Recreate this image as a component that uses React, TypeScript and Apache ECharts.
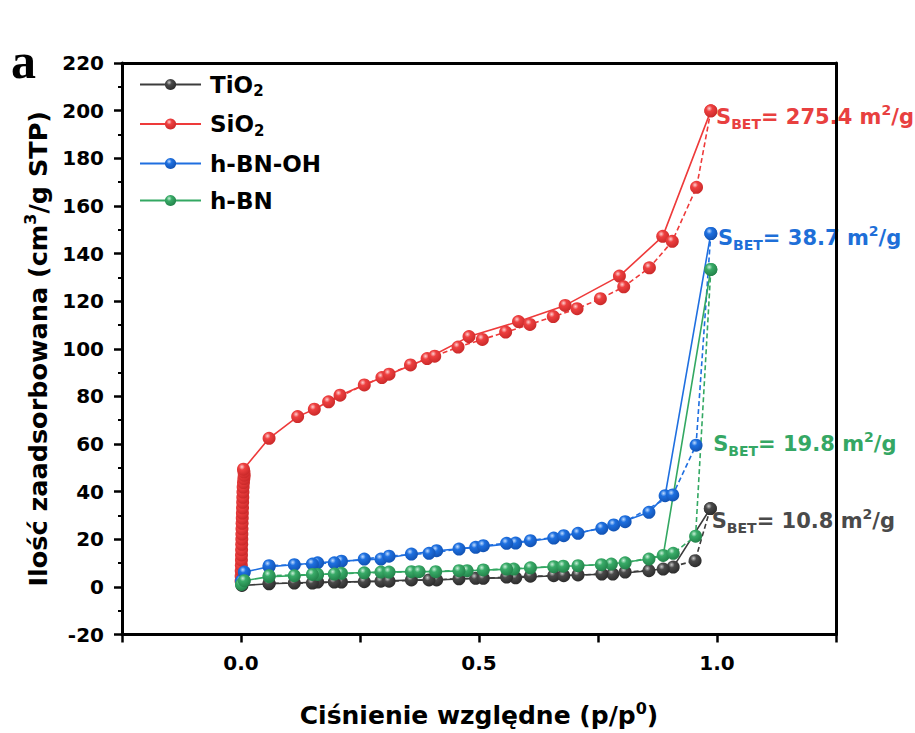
import React, { useEffect, useRef } from 'react';
import * as echarts from 'echarts';

const FONT = '"DejaVu Sans", "Liberation Sans", Arial, sans-serif';

// ---- data (p/p0, adsorbed volume) ----
const materials = ['TiO2', 'SiO2', 'h-BN-OH', 'h-BN'];
const legendLabels = ['{n|TiO}{sub|2}', '{n|SiO}{sub|2}', '{n|h-BN-OH}', '{n|h-BN}'];

const tio2Adsorption = [[0.002, 0.6], [0.059, 1.3], [0.112, 1.6], [0.161, 2.0], [0.211, 2.0], [0.294, 2.4], [0.358, 2.9], [0.411, 2.9], [0.493, 3.6], [0.577, 3.8], [0.657, 4.7], [0.708, 5.0], [0.781, 5.4], [0.857, 6.8], [0.908, 8.3], [0.986, 32.9]];
const tio2Desorption = [[0.986, 32.9], [0.954, 11.0], [0.887, 7.5], [0.807, 6.2], [0.758, 5.4], [0.678, 4.7], [0.608, 4.5], [0.558, 4.1], [0.509, 3.6], [0.458, 3.4], [0.395, 2.9], [0.311, 2.4], [0.259, 2.2], [0.196, 2.0], [0.150, 1.6], [0.059, 1.5]];

const sio2Adsorption = [[0.0001, 2.5], [0.0003, 4.6], [0.0005, 6.8], [0.0007, 9.1], [0.0009, 11.3], [0.0011, 13.4], [0.0013, 15.6], [0.0015, 17.9], [0.0017, 20.1], [0.0019, 22.2], [0.0021, 24.4], [0.0023, 26.7], [0.0026, 28.9], [0.0029, 31.0], [0.0032, 33.2], [0.0035, 35.5], [0.0038, 37.6], [0.0041, 39.8], [0.0045, 41.9], [0.0052, 43.8], [0.0060, 45.5], [0.0068, 46.9], [0.0062, 48.3], [0.0052, 49.4], [0.059, 62.4], [0.119, 71.5], [0.154, 74.6], [0.208, 80.5], [0.296, 87.9], [0.391, 95.9], [0.479, 105.1], [0.583, 111.4], [0.681, 118.2], [0.795, 130.5], [0.886, 147.2], [0.987, 199.9]];
const sio2Desorption = [[0.987, 199.9], [0.957, 167.8], [0.906, 145.1], [0.858, 134.0], [0.804, 126.0], [0.755, 121.0], [0.706, 116.8], [0.656, 113.5], [0.607, 110.2], [0.556, 107.0], [0.507, 103.9], [0.456, 100.7], [0.407, 96.9], [0.356, 93.2], [0.311, 89.3], [0.259, 84.8], [0.184, 77.7]];

const bnohAdsorption = [[0.001, 2.5], [0.007, 6.2], [0.059, 8.5], [0.112, 9.3], [0.161, 10.1], [0.211, 10.8], [0.294, 11.7], [0.358, 13.8], [0.411, 15.2], [0.493, 16.6], [0.577, 18.4], [0.657, 20.5], [0.708, 22.5], [0.783, 26.0], [0.857, 31.3], [0.891, 38.3], [0.987, 148.4]];
const bnohDesorption = [[0.987, 148.4], [0.956, 59.5], [0.907, 38.6], [0.807, 27.4], [0.758, 24.6], [0.678, 21.5], [0.608, 19.4], [0.558, 18.3], [0.509, 17.3], [0.458, 15.9], [0.395, 14.1], [0.311, 12.9], [0.259, 11.7], [0.196, 10.1], [0.150, 9.6], [0.059, 8.9]];

const bnAdsorption = [[0.001, 1.0], [0.007, 2.6], [0.059, 4.3], [0.112, 4.7], [0.161, 5.2], [0.211, 5.7], [0.294, 6.2], [0.358, 6.4], [0.409, 6.4], [0.475, 6.8], [0.573, 7.5], [0.657, 8.5], [0.708, 8.9], [0.778, 9.6], [0.857, 11.7], [0.887, 13.2], [0.987, 133.3]];
const bnDesorption = [[0.987, 133.3], [0.955, 21.3], [0.908, 14.1], [0.807, 10.1], [0.757, 9.3], [0.677, 8.7], [0.608, 8.0], [0.558, 7.5], [0.509, 7.1], [0.458, 6.8], [0.374, 6.4], [0.311, 6.2], [0.259, 5.9], [0.196, 5.4], [0.150, 5.2], [0.059, 4.7]];

// BET surface annotations (order: TiO2, SiO2, h-BN-OH, h-BN)
const betValues = ['10.8', '275.4', '38.7', '19.8'];
const betAnchorP = [0.989, 0.998, 1.002, 0.992];
const betAnchorV = [27.6, 197.4, 146.6, 59.8];

// axis ticks
const xMin = -0.25, xMax = 1.25, xStep = 0.25;
const yMin = -20, yMax = 220, yStep = 20;

// colours: [line, base, dark, light, text]
const palette = [
  ['#3c3c3c', '#4a4a4a', '#2a2a2a', '#c8c8c8', '#4a4a4a'],
  ['#ee3a3a', '#ee4040', '#c82828', '#ffd0d0', '#e8403f'],
  ['#1f6fe0', '#1e70e0', '#1150b0', '#c0dcff', '#1e6fd8'],
  ['#33a862', '#39ab68', '#218048', '#c8efd8', '#35a764'],
];

const adsorption = [tio2Adsorption, sio2Adsorption, bnohAdsorption, bnAdsorption];
const desorption = [tio2Desorption, sio2Desorption, bnohDesorption, bnDesorption];
const drawOrder = [1, 0, 2, 3];

export default function App() {
  const ref = useRef<HTMLDivElement>(null);
  useEffect(() => {
    if (!ref.current) return;
    const chart = echarts.init(ref.current, undefined, { renderer: 'svg' });
    const ball = (i: number) =>
      new echarts.graphic.RadialGradient(0.38, 0.32, 0.72, [
        { offset: 0, color: palette[i][3] },
        { offset: 0.32, color: palette[i][1] },
        { offset: 1, color: palette[i][2] },
      ]);
    const series: any[] = [];
    drawOrder.forEach((i) => {
      series.push({
        name: materials[i],
        type: 'line',
        data: adsorption[i],
        symbol: 'circle',
        symbolSize: 13,
        lineStyle: { color: palette[i][0], width: 1.6 },
        itemStyle: { color: ball(i) },
        emphasis: { disabled: true },
        markPoint: {
          symbol: 'circle',
          symbolSize: 0,
          silent: true,
          animation: false,
          data: [
            {
              coord: [betAnchorP[i], betAnchorV[i]],
              label: {
                show: true,
                position: 'right',
                distance: 0,
                formatter: `{s|S}{sub|BET}{s|= ${betValues[i]} m}{sup|2}{s|/g}`,
                rich: {
                  s: { fontSize: 21, fontWeight: 'bold', fontFamily: FONT, color: palette[i][4], lineHeight: 28 },
                  sub: { fontSize: 14, fontWeight: 'bold', fontFamily: FONT, color: palette[i][4], lineHeight: 11, verticalAlign: 'bottom' },
                  sup: { fontSize: 14, fontWeight: 'bold', fontFamily: FONT, color: palette[i][4], lineHeight: 12, verticalAlign: 'top' },
                },
              },
            },
          ],
        },
      });
      series.push({
        name: materials[i] + ' desorption',
        type: 'line',
        data: desorption[i],
        symbol: 'circle',
        symbolSize: 13,
        lineStyle: { color: palette[i][0], width: 1.6, type: [5, 3] },
        itemStyle: { color: ball(i) },
        emphasis: { disabled: true },
      });
    });

    const frameAxis = { show: true, onZero: false, lineStyle: { color: '#000', width: 3 } };

    chart.setOption({
      animation: false,
      backgroundColor: '#fff',
      grid: { left: 122, top: 63, width: 714, height: 572, containLabel: false },
      graphic: [
        {
          type: 'text',
          left: 11,
          top: 36,
          style: { text: 'a', fontSize: 50, fontWeight: 'bold', fontFamily: '"Liberation Serif", "DejaVu Serif", serif', fill: '#000' },
        },
      ],
      legend: {
        data: materials,
        orient: 'vertical',
        left: 134,
        top: 68,
        itemWidth: 61,
        itemHeight: 14,
        itemGap: 14,
        selectedMode: false,
        formatter: (name: string) => legendLabels[materials.indexOf(name)],
        textStyle: {
          fontFamily: FONT,
          fontWeight: 'bold',
          fontSize: 23,
          color: '#000',
          padding: [0, 0, 0, 4],
          rich: {
            n: { fontFamily: FONT, fontWeight: 'bold', fontSize: 23, color: '#000', lineHeight: 28 },
            sub: { fontFamily: FONT, fontWeight: 'bold', fontSize: 15, color: '#000', lineHeight: 12, verticalAlign: 'bottom' },
          },
        },
      },
      xAxis: [
        {
          type: 'value',
          min: xMin,
          max: xMax,
          interval: xStep,
          position: 'bottom',
          axisLine: frameAxis,
          axisTick: { show: true, length: 8, lineStyle: { color: '#000', width: 2.5 } },
          splitLine: { show: false },
          axisLabel: {
            margin: 18,
            color: '#000',
            fontSize: 20,
            fontWeight: 'bold',
            fontFamily: FONT,
            formatter: (v: number) => (Math.abs(v * 2 - Math.round(v * 2)) < 1e-6 ? v.toFixed(1) : ''),
          },
          name: '{n|Ciśnienie względne (p/p}{sup|0}{n|)}',
          nameLocation: 'middle',
          nameGap: 66,
          nameTextStyle: {
            rich: {
              n: { fontFamily: FONT, fontWeight: 'bold', fontSize: 25, color: '#000', lineHeight: 30 },
              sup: { fontFamily: FONT, fontWeight: 'bold', fontSize: 16, color: '#000', lineHeight: 14, verticalAlign: 'top' },
            },
          },
        },
        {
          type: 'value',
          min: xMin,
          max: xMax,
          position: 'top',
          axisLine: frameAxis,
          axisTick: { show: false },
          axisLabel: { show: false },
          splitLine: { show: false },
          z: 10,
        },
      ],
      yAxis: [
        {
          type: 'value',
          min: yMin,
          max: yMax,
          interval: yStep,
          position: 'left',
          axisLine: frameAxis,
          axisTick: { show: true, length: 8, lineStyle: { color: '#000', width: 2.5 } },
          minorTick: { show: true, splitNumber: 2, length: 4, lineStyle: { color: '#000', width: 2 } },
          splitLine: { show: false },
          axisLabel: { margin: 18, color: '#000', fontSize: 20, fontWeight: 'bold', fontFamily: FONT },
          name: '{n|Ilość zaadsorbowana (cm}{sup|3}{n|/g STP)}',
          nameLocation: 'middle',
          nameGap: 68,
          nameTextStyle: {
            rich: {
              n: { fontFamily: FONT, fontWeight: 'bold', fontSize: 25.5, color: '#000', lineHeight: 31 },
              sup: { fontFamily: FONT, fontWeight: 'bold', fontSize: 16, color: '#000', lineHeight: 14, verticalAlign: 'top' },
            },
          },
        },
        {
          type: 'value',
          min: yMin,
          max: yMax,
          position: 'right',
          axisLine: frameAxis,
          axisTick: { show: false },
          axisLabel: { show: false },
          splitLine: { show: false },
          z: 10,
        },
      ],
      series,
    });
    return () => chart.dispose();
  }, []);
  return (
    <div
      ref={ref}
      style={{ position: 'fixed', left: 0, top: 0, width: 915, height: 733, background: '#fff' }}
    />
  );
}
